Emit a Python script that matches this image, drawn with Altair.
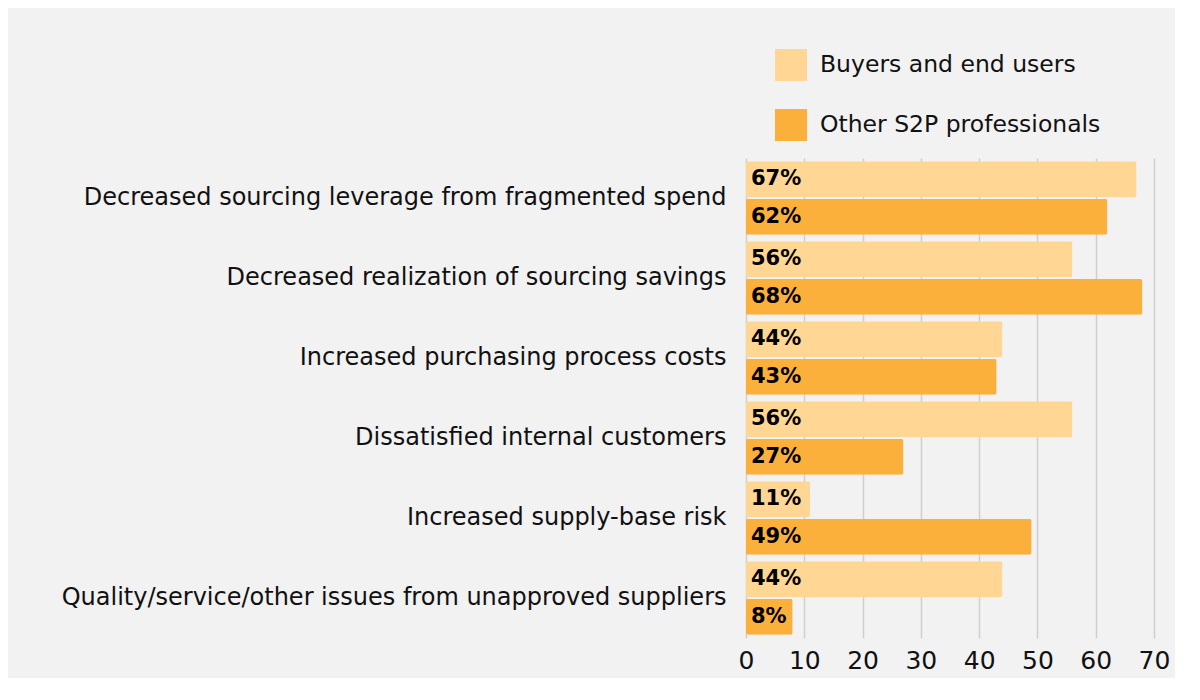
import altair as alt
import pandas as pd

categories = [
    "Decreased sourcing leverage from fragmented spend",
    "Decreased realization of sourcing savings",
    "Increased purchasing process costs",
    "Dissatisfied internal customers",
    "Increased supply-base risk",
    "Quality/service/other issues from unapproved suppliers",
]
series = ["Buyers and end users", "Other S2P professionals"]
buyers = [67, 56, 44, 56, 11, 44]
others = [62, 68, 43, 27, 49, 8]
colors = ["#FFD694", "#FBB03B"]

rows = []
for c, b, o in zip(categories, buyers, others):
    rows.append({"cat": c, "series": series[0], "val": b, "label": f"{b}%"})
    rows.append({"cat": c, "series": series[1], "val": o, "label": f"{o}%"})
df = pd.DataFrame(rows)

FONT = "DejaVu Sans"

y_enc = alt.Y(
    "cat:N", sort=categories, title=None,
    scale=alt.Scale(paddingInner=0.08, paddingOuter=0.04),
    axis=alt.Axis(labelFontSize=24, labelColor="#111", labelFont=FONT, ticks=False,
                  domain=False, labelPadding=20, minExtent=738, maxExtent=738, labelLimit=800),
)
yoff = alt.YOffset("series:N", sort=series, scale=alt.Scale(paddingInner=0.05))

bars = alt.Chart(df).mark_bar(cornerRadius=2).encode(
    x=alt.X("val:Q", title=None, scale=alt.Scale(domain=[0, 70], nice=False),
            axis=alt.Axis(values=list(range(0, 71, 10)), labelFontSize=25, labelColor="#111",
                          labelFont=FONT, ticks=False, domain=False, labelPadding=10,
                          labelFlush=False,
                          grid=True, gridColor="#cfcfcf", gridWidth=1.5)),
    y=y_enc,
    yOffset=yoff,
    color=alt.Color("series:N", sort=series, title=None,
                    scale=alt.Scale(domain=series, range=colors),
                    legend=alt.Legend(orient="none", legendX=29, legendY=-109,
                                      symbolType="square", symbolSize=1024, symbolStrokeWidth=0,
                                      labelFontSize=23.5, labelFont=FONT, labelColor="#111",
                                      labelLimit=400,
                                      rowPadding=28, labelOffset=13)),
)

text = alt.Chart(df).mark_text(align="left", baseline="middle", dx=5, fontSize=21,
                               fontWeight="bold", font=FONT, color="#000").encode(
    x=alt.datum(0),
    y=alt.Y("cat:N", sort=categories),
    yOffset=yoff,
    text="label:N",
)

chart = (bars + text).properties(
    width=408, height=480, background="#f2f2f2",
    padding={"left": 0, "top": 41, "right": 5, "bottom": 5},
).configure_view(stroke=None)

chart.save("out.html", embed_options={"renderer": "svg", "actions": False})
